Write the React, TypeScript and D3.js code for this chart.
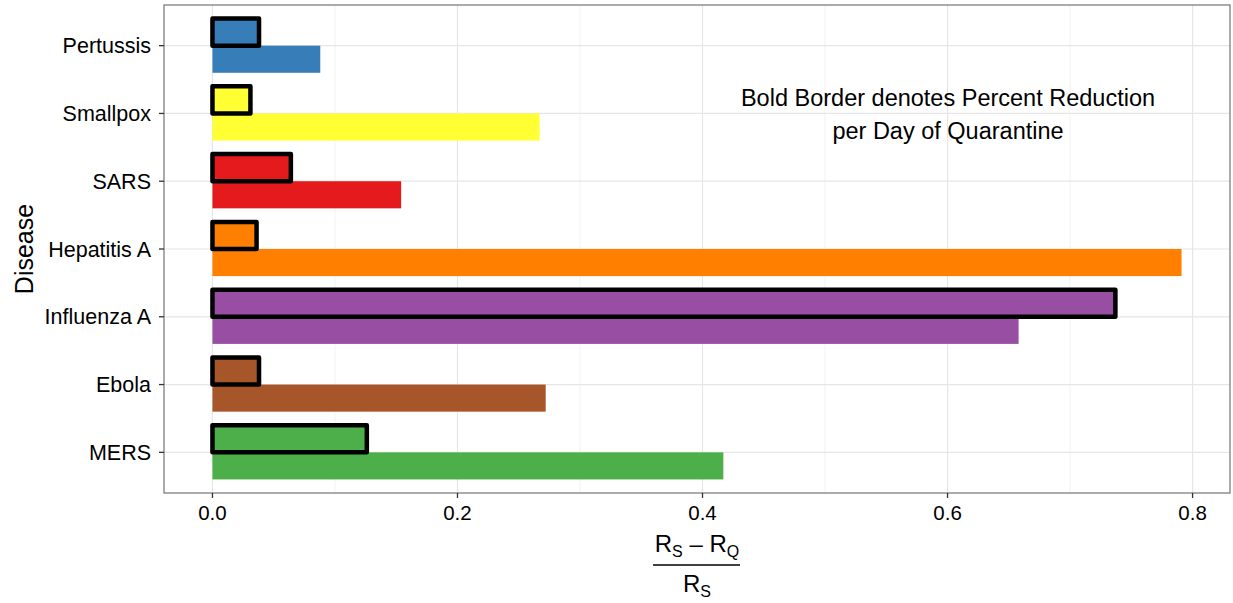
import React from "react";
import * as d3 from "d3";

const diseases = ["Pertussis", "Smallpox", "SARS", "Hepatitis A", "Influenza A", "Ebola", "MERS"];
const colors = ["#377EB8", "#FFFF33", "#E41A1C", "#FF7F00", "#984EA3", "#A65628", "#4DAF4A"];
// Percent reduction per day of quarantine (bold-bordered bars)
const perDayReduction = [0.038, 0.031, 0.064, 0.036, 0.737, 0.038, 0.126];
// Overall relative reduction (R_S - R_Q) / R_S
const totalReduction = [0.088, 0.267, 0.154, 0.791, 0.658, 0.272, 0.417];
const xTicks = [0, 0.2, 0.4, 0.6, 0.8];
const xMinor = [0.1, 0.3, 0.5, 0.7];

const W = 1233;
const H = 603;
const panel = { left: 164, right: 1230, top: 5, bottom: 493 };
const FONT = "'Liberation Sans', Arial, Helvetica, sans-serif";

export default function App() {
  const maxV = d3.max([...perDayReduction, ...totalReduction]) as number;
  const pad = maxV * 0.05;
  const x = d3.scaleLinear().domain([-pad, maxV + pad]).range([panel.left, panel.right]);
  const n = diseases.length;
  const y = d3.scaleLinear().domain([-0.6, n - 1 + 0.6]).range([panel.top, panel.bottom]);
  const step = y(1) - y(0);
  const barH = step * 0.4;

  return (
    <svg width={W} height={H} style={{ position: "absolute", left: 0, top: 0, background: "#fff" }} fontFamily={FONT}>
      {/* grid */}
      {xMinor.map((t) => (
        <line key={"mn" + t} x1={x(t)} x2={x(t)} y1={panel.top} y2={panel.bottom} stroke="#f2f2f2" strokeWidth={1} />
      ))}
      {xTicks.map((t) => (
        <line key={"mj" + t} x1={x(t)} x2={x(t)} y1={panel.top} y2={panel.bottom} stroke="#e6e6e6" strokeWidth={1.2} />
      ))}
      {diseases.map((d, i) => (
        <line key={"hg" + d} x1={panel.left} x2={panel.right} y1={y(i)} y2={y(i)} stroke="#e6e6e6" strokeWidth={1.2} />
      ))}
      {/* bars */}
      {diseases.map((d, i) => (
        <g key={"b" + d}>
          <rect x={x(0)} y={y(i)} width={x(totalReduction[i]) - x(0)} height={barH} fill={colors[i]} />
          <rect
            x={x(0)}
            y={y(i) - barH}
            width={x(perDayReduction[i]) - x(0)}
            height={barH}
            fill={colors[i]}
            stroke="#000"
            strokeWidth={4.5}
            strokeLinejoin="round"
          />
        </g>
      ))}
      {/* annotation */}
      <text x={948} y={106} textAnchor="middle" fontSize={23.5} fill="#000">
        Bold Border denotes Percent Reduction
      </text>
      <text x={948} y={139} textAnchor="middle" fontSize={23.5} fill="#000">
        per Day of Quarantine
      </text>
      {/* panel border */}
      <rect x={panel.left} y={panel.top} width={panel.right - panel.left} height={panel.bottom - panel.top} fill="none" stroke="#7f7f7f" strokeWidth={1.3} />
      {/* y axis */}
      {diseases.map((d, i) => (
        <g key={"yt" + d}>
          <line x1={panel.left - 5} x2={panel.left} y1={y(i)} y2={y(i)} stroke="#333" strokeWidth={1.3} />
          <text x={panel.left - 13} y={y(i)} dy="0.35em" textAnchor="end" fontSize={21.5} fill="#000">
            {d}
          </text>
        </g>
      ))}
      {/* x axis */}
      {xTicks.map((t) => (
        <g key={"xt" + t}>
          <line x1={x(t)} x2={x(t)} y1={panel.bottom} y2={panel.bottom + 5} stroke="#333" strokeWidth={1.3} />
          <text x={x(t)} y={520} textAnchor="middle" fontSize={20.5} fill="#000">
            {d3.format(".1f")(t)}
          </text>
        </g>
      ))}
      {/* x axis title: (R_S - R_Q) / R_S */}
      <text x={697} y={552} textAnchor="middle" fontSize={24} fill="#000">
        R<tspan fontSize={16} dy={5}>S</tspan>
        <tspan dy={-5}> – R</tspan>
        <tspan fontSize={16} dy={5}>Q</tspan>
      </text>
      <line x1={653} x2={740} y1={565} y2={565} stroke="#000" strokeWidth={1.3} />
      <text x={697} y={592} textAnchor="middle" fontSize={24} fill="#000">
        R<tspan fontSize={16} dy={5}>S</tspan>
      </text>
      {/* y axis title */}
      <text transform={`translate(33,249) rotate(-90)`} textAnchor="middle" fontSize={25} fill="#000">
        Disease
      </text>
    </svg>
  );
}
